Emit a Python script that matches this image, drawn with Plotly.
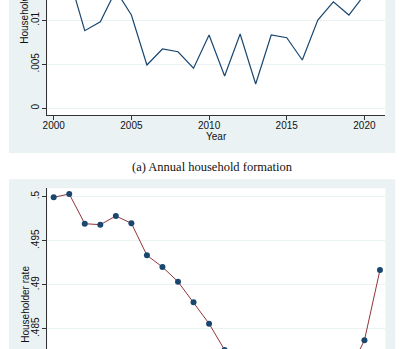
import plotly.graph_objects as go

# Panel (a): annual household formation
years_a = [2001, 2002, 2003, 2004, 2005, 2006, 2007, 2008, 2009, 2010,
           2011, 2012, 2013, 2014, 2015, 2016, 2017, 2018, 2019, 2020]
formation = [0.0149, 0.00882, 0.00984, 0.0134, 0.0106, 0.00492, 0.00674, 0.00643,
             0.00455, 0.00833, 0.00367, 0.00844, 0.00276, 0.00833, 0.00802,
             0.00549, 0.01003, 0.01211, 0.0106, 0.0129]

# Panel (b): householder rate
years_b = list(range(2000, 2022))
hh_rate = [0.49993, 0.50031, 0.49693, 0.49682, 0.49781, 0.49698, 0.49334, 0.49201,
           0.49034, 0.48800, 0.48557, 0.48258, 0.4800, 0.4782, 0.4772, 0.4767,
           0.4768, 0.4775, 0.4787, 0.48011, 0.48368, 0.49167]

tick_years = [2000, 2005, 2010, 2015, 2020]
ticks_a = [0, 0.005, 0.01]
ticklab_a = ["0", ".005", ".01"]
ticks_b = [0.485, 0.49, 0.495, 0.5]
ticklab_b = [".485", ".49", ".495", ".5"]

W, H = 419, 349
def px(x): return x / W
def py(y): return 1 - y / H

NAVY = "#1A476F"
MAROON = "#90353B"
BG = "#EAF2F3"
GRID = "#EAF2F3"
AX = "#333333"
FONT = "Liberation Sans, Arial, sans-serif"

fig = go.Figure()
fig.add_trace(go.Scatter(x=years_a, y=formation, mode="lines",
                         line=dict(color=NAVY, width=1.2),
                         xaxis="x", yaxis="y", showlegend=False))
fig.add_trace(go.Scatter(x=years_b, y=hh_rate, mode="lines+markers",
                         line=dict(color=MAROON, width=1),
                         marker=dict(color=NAVY, size=6),
                         xaxis="x2", yaxis="y2", showlegend=False))

xdom = [px(43), px(385)]
xr = [1999.6, 2021.35]
common_x = dict(range=xr, domain=xdom, showgrid=False, zeroline=False,
                tickvals=tick_years, ticklen=4, tickcolor=AX,
                tickfont=dict(family=FONT, size=10, color="#111"))
common_y = dict(showgrid=True, gridcolor=GRID, gridwidth=1, zeroline=False,
                showline=True, linecolor=AX, linewidth=1, ticks="outside",
                ticklen=4, tickcolor=AX, tickangle=-90, ticklabelstandoff=-1,
                tickfont=dict(family=FONT, size=10, color="#111"))

shapes = [
    dict(type="rect", xref="paper", yref="paper", x0=px(4), x1=px(395),
         y0=py(153), y1=1.02, fillcolor=BG, line=dict(width=0), layer="below"),
    dict(type="rect", xref="paper", yref="paper", x0=px(4), x1=px(395),
         y0=-0.02, y1=py(179.3), fillcolor=BG, line=dict(width=0), layer="below"),
    dict(type="rect", xref="paper", yref="paper", x0=xdom[0], x1=xdom[1],
         y0=py(115), y1=1.02, fillcolor="white", line=dict(width=0), layer="below"),
    dict(type="rect", xref="paper", yref="paper", x0=xdom[0], x1=xdom[1],
         y0=-0.02, y1=py(188.3), fillcolor="white", line=dict(width=0), layer="below"),
]

annotations = [
    dict(text="Year", xref="paper", yref="paper", x=px(214), y=py(136.5),
         xanchor="center", yanchor="middle", showarrow=False,
         font=dict(family=FONT, size=10, color="#111")),
    dict(text="Household formation", xref="paper", yref="paper", x=px(20), y=py(46),
         xanchor="center", yanchor="bottom", textangle=-90, showarrow=False,
         font=dict(family=FONT, size=10, color="#111")),
    dict(text="Householder rate", xref="paper", yref="paper", x=px(20), y=py(304),
         xanchor="center", yanchor="middle", textangle=-90, showarrow=False,
         font=dict(family=FONT, size=10, color="#111")),
    dict(text="(a) Annual household formation", xref="paper", yref="paper",
         x=0.5, y=py(167.3), xanchor="center", yanchor="middle", showarrow=False,
         font=dict(family="Liberation Serif, Times New Roman, serif", size=12.5,
                   color="#111")),
]

fig.update_layout(
    width=W, height=H, margin=dict(l=0, r=0, t=0, b=0),
    paper_bgcolor="white", plot_bgcolor="rgba(0,0,0,0)",
    xaxis=dict(**common_x, anchor="y", showline=True, linecolor=AX, linewidth=1,
               showticklabels=True, ticks="outside", ticklabelstandoff=-3),
    yaxis=dict(**common_y, domain=[py(115), 1], range=[-0.00076, 0.01231],
               tickvals=ticks_a, ticktext=ticklab_a, anchor="x"),
    xaxis2=dict(**common_x, anchor="y2", showline=False, showticklabels=False,
                ticks=""),
    yaxis2=dict(**common_y, domain=[0, py(188.3)], range=[0.48269, 0.500955],
                tickvals=ticks_b, ticktext=ticklab_b, anchor="x2"),
    shapes=shapes, annotations=annotations,
)

fig.write_html("out.html")
